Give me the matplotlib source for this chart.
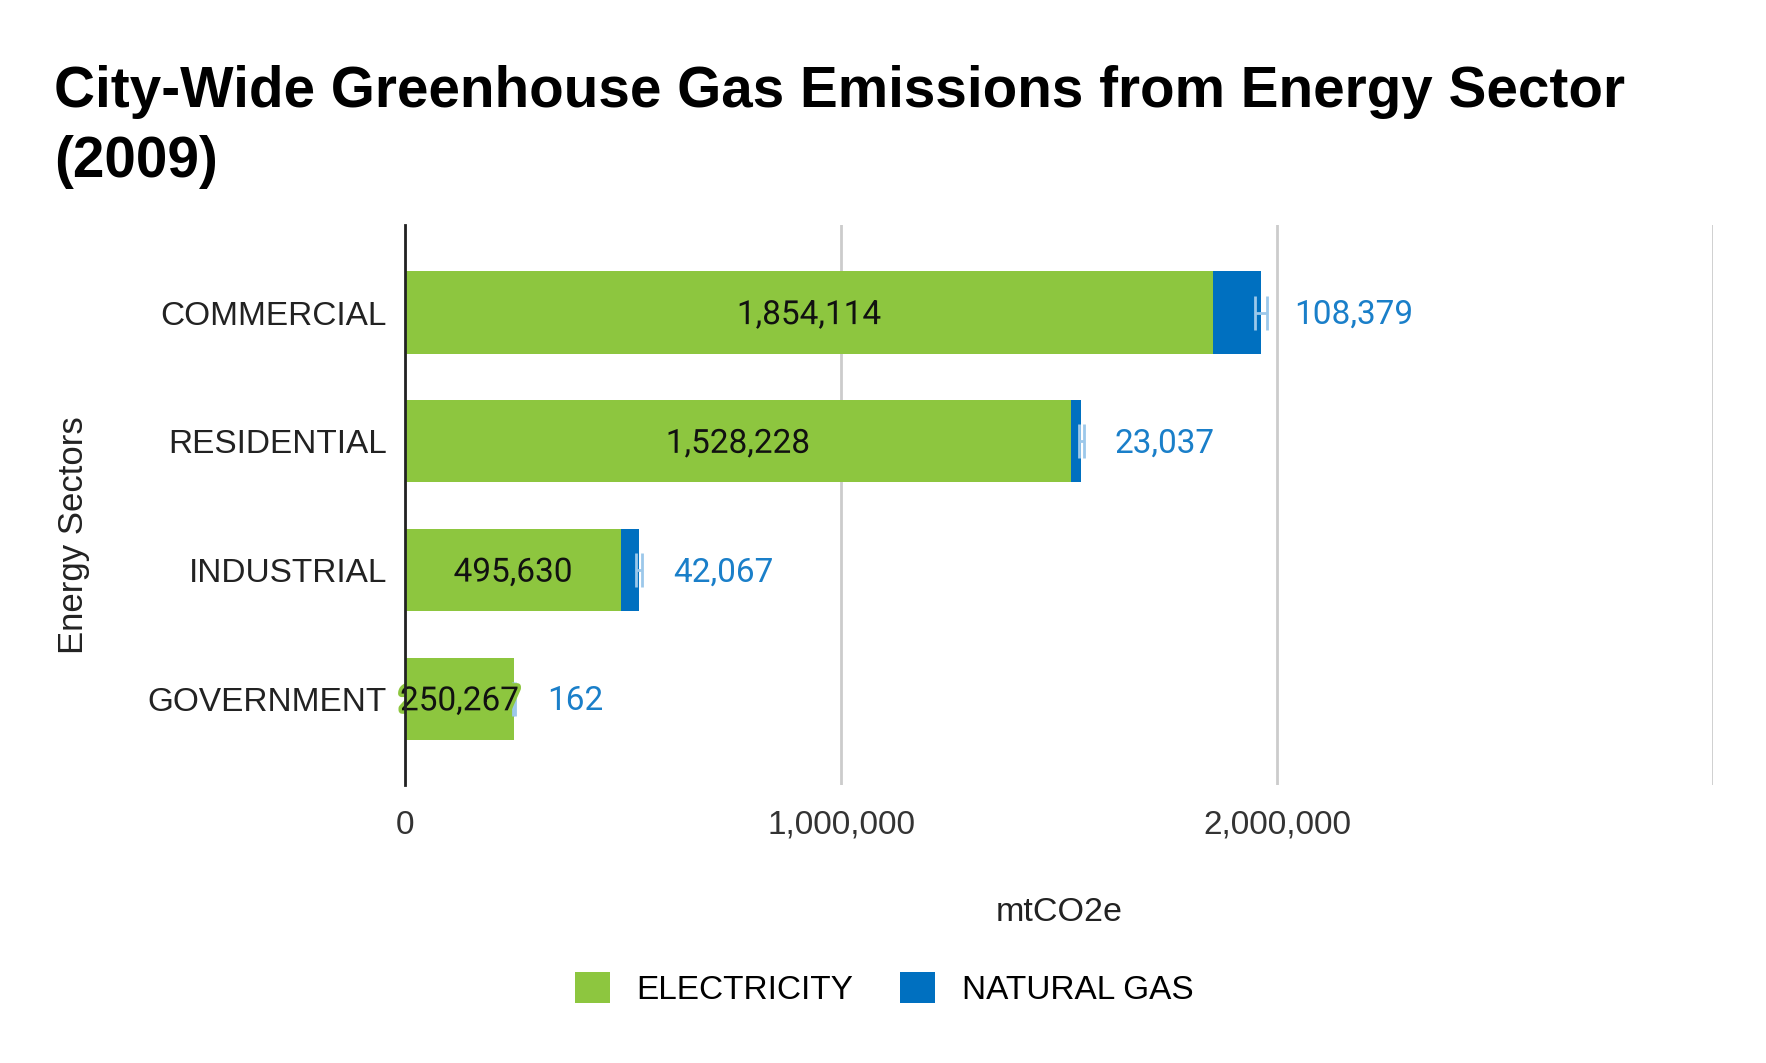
import matplotlib.pyplot as plt
import matplotlib.patheffects as pe
from matplotlib.patches import Patch

sectors = ["COMMERCIAL", "RESIDENTIAL", "INDUSTRIAL", "GOVERNMENT"]
electricity = [1854114, 1528228, 495630, 250267]
natural_gas = [108379, 23037, 42067, 162]
gas_spread = [14000, 5000, 7000, 2000]

x_ticks = [0, 1000000, 2000000, 3000000]
x_tick_labels = ["0", "1,000,000", "2,000,000", ""]

green = "#8DC63F"
blue = "#0070C0"
label_blue = "#1A7FC9"

fig = plt.figure(figsize=(17.66, 10.63), dpi=100)
ax = fig.add_axes([405 / 1766, 1 - 785 / 1063, (1713 - 405) / 1766, (785 - 225) / 1063])

pos = list(range(len(sectors)))
ax.barh(pos, electricity, height=0.64, color=green, zorder=2)
totals = [e + g for e, g in zip(electricity, natural_gas)]
ax.barh(pos, natural_gas, left=electricity, height=0.64, color=blue, zorder=2)
ax.errorbar(totals, pos, xerr=gas_spread, fmt="none", ecolor="#9CC8EA",
            elinewidth=2, capsize=12, capthick=2, zorder=3)

for p, e, g, t in zip(pos, electricity, natural_gas, totals):
    ax.text(e / 2, p + 0.02, f"{e:,}", ha="center", va="center", fontsize=24,
            family="Roboto", color="#111111", zorder=4,
            path_effects=[pe.withStroke(linewidth=5, foreground=green)])
    ax.annotate(f"{g:,}", xy=(t, p + 0.02), xytext=(24, 0), textcoords="offset points",
                ha="left", va="center", fontsize=24, family="Roboto",
                color=label_blue)

ax.set_xlim(0, 3000000)
ax.set_ylim(3.67, -0.68)
ax.set_yticks(pos)
ax.set_yticklabels(sectors, fontsize=24, family="Liberation Sans", color="#222222")
ax.set_xticks(x_ticks)
ax.set_xticklabels(x_tick_labels, fontsize=24, family="Liberation Sans", color="#333333")
ax.tick_params(axis="y", length=0, pad=13)
ax.tick_params(axis="x", length=0, pad=18)

ax.grid(axis="x", color="#CCCCCC", linewidth=2, zorder=0)
for s in ["top", "right", "bottom"]:
    ax.spines[s].set_visible(False)
ax.spines["left"].set_color("#222222")
ax.spines["left"].set_linewidth(2)
ax.spines["left"].set_zorder(5)

ax.set_xlabel("mtCO2e", fontsize=24.5, family="Liberation Sans", color="#222222", labelpad=40)
fig.text(73 / 1766, 1 - 535 / 1063, "Energy Sectors", rotation=90, ha="center",
         va="center", fontsize=25, family="Liberation Sans", color="#222222")

fig.text(54 / 1766, 1 - 65 / 1063,
         "City-Wide Greenhouse Gas Emissions from Energy Sector\n(2009)",
         ha="left", va="top", fontsize=40.8, fontweight="bold",
         family="Liberation Sans", linespacing=1.38)

handles = [Patch(facecolor=green, label="ELECTRICITY"),
           Patch(facecolor=blue, label="NATURAL GAS")]
fig.legend(handles=handles, loc="center", bbox_to_anchor=(884 / 1766, 1 - 989 / 1063),
           ncol=2, frameon=False, prop={"family": "Liberation Sans", "size": 24},
           handlelength=1.05, handleheight=1.05, handletextpad=0.8, columnspacing=1.4)

fig.savefig("out.png", dpi=100)
